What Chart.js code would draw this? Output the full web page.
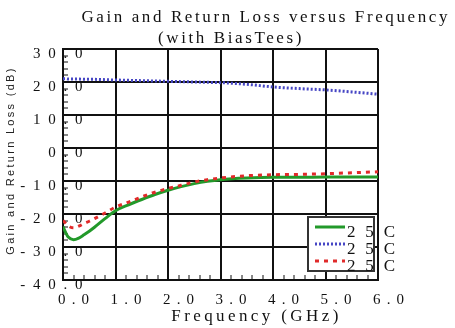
<!DOCTYPE html>
<html>
<head>
<meta charset="utf-8">
<script src="https://cdn.jsdelivr.net/npm/chart.js@4.4.1/dist/chart.umd.min.js"></script>
<style>
  html, body { margin: 0; padding: 0; background: #fff; }
  #wrap { width: 455px; height: 328px; }
</style>
</head>
<body>
<div id="wrap"><canvas id="chart"></canvas></div>
<script>
// values
const freqGHz = [0, 0.05, 0.1, 0.2, 0.3, 0.4, 0.5, 0.6, 0.8, 1.0, 1.25, 1.5, 1.75, 2.0, 2.25, 2.5, 2.75, 3.0, 3.5, 4.0, 4.5, 5.0, 5.5, 6.0];
const greenLoss = [-23.8, -25.6, -27.0, -27.8, -27.3, -26.3, -25.2, -24.0, -21.4, -19.0, -17.2, -15.6, -14.1, -12.8, -11.7, -10.8, -10.1, -9.6, -9.1, -8.9, -8.9, -8.8, -8.8, -8.8];
const blueGain = [21.0, 21.0, 20.9, 20.9, 20.9, 20.8, 20.8, 20.8, 20.7, 20.6, 20.5, 20.4, 20.3, 20.2, 20.1, 20.0, 19.9, 19.8, 19.3, 18.5, 18.0, 17.6, 17.0, 16.3];
const redLoss = [-22.0, -22.8, -23.6, -24.2, -23.7, -22.9, -22.2, -21.4, -19.7, -17.9, -16.4, -14.8, -13.4, -12.3, -11.3, -10.3, -9.6, -9.1, -8.4, -8.1, -8.0, -7.8, -7.5, -7.2];
const seriesLabels = ["2 5 C", "2 5 C", "2 5 C"];

const xMajorTicks = [0, 1, 2, 3, 4, 5, 6];
const xTickLabels = ["0 . 0", "1 . 0", "2 . 0", "3 . 0", "4 . 0", "5 . 0", "6 . 0"];
const yMajorTicks = [30, 20, 10, 0, -10, -20, -30, -40];
const yTickLabels = ["3 0 . 0", "2 0 . 0", "1 0 . 0", "0 . 0", "- 1 0 . 0", "- 2 0 . 0", "- 3 0 . 0", "- 4 0 . 0"];

const points = (arr) => freqGHz.map((f, i) => ({ x: f, y: arr[i] }));

Chart.defaults.font.family = "'Liberation Serif', 'Times New Roman', serif";
Chart.defaults.color = "#111";

// wrap a draw method so its text gets letter spacing (and an optional shift)
function tweak(obj, method, spacing, dx = 0, dy = 0) {
    if (!obj || obj[method].tweaked) return;
    const orig = obj[method];
    const wrapped = function (...args) {
        const ctx = this.ctx;
        ctx.save();
        ctx.letterSpacing = spacing;
        ctx.translate(dx, dy);
        orig.apply(this, args);
        ctx.restore();
    };
    wrapped.tweaked = true;
    obj[method] = wrapped;
}

const textTweaks = {
    id: "textTweaks",
    beforeDraw(chart) {
        const { x, y } = chart.scales;
        // y labels run across the axis line, so don't clip them to the scale box
        y._computeLabelArea = () => undefined;
        tweak(x, "drawLabels", "1.2px");
        tweak(y, "drawLabels", "2px");
        tweak(x, "drawTitle", "3.4px", 36, 0);
        tweak(y, "drawTitle", "2.3px", 0, -4);
        chart.boxes.forEach(b => {
            if (!b.axis && b.options && typeof b.options.text === "string") tweak(b, "draw", "2.6px");
        });
    }
};

// boxed legend in the lower right corner of the plot
const legendBox = {
    id: "legendBox",
    afterDatasetsDraw(chart) {
        const { ctx, chartArea } = chart;
        const w = 66, h = 54;
        const x = chartArea.right - 4 - w;
        const y = chartArea.bottom - 9 - h;
        ctx.save();
        ctx.fillStyle = "#fff";
        ctx.fillRect(x, y, w, h);
        ctx.strokeStyle = "#333";
        ctx.lineWidth = 2;
        ctx.strokeRect(x, y, w, h);
        ctx.font = "17px 'Liberation Serif'";
        ctx.textBaseline = "middle";
        ctx.letterSpacing = "2.8px";
        chart.data.datasets.forEach((ds, i) => {
            const ty = y + 16 + i * 17;
            ctx.strokeStyle = ds.borderColor;
            ctx.lineWidth = ds.borderWidth;
            ctx.setLineDash(ds.borderDash || []);
            ctx.beginPath();
            ctx.moveTo(x + 7, ty - 6);
            ctx.lineTo(x + 37, ty - 6);
            ctx.stroke();
            ctx.setLineDash([]);
            ctx.fillStyle = "#111";
            ctx.fillText(ds.label, x + 39, ty);
        });
        ctx.restore();
    }
};

const isMajorX = (v) => xMajorTicks.includes(v);
const isMajorY = (v) => yMajorTicks.includes(v);

new Chart(document.getElementById("chart"), {
    type: "line",
    data: {
        datasets: [
            {
                label: seriesLabels[0],
                data: points(greenLoss),
                borderColor: "#22992a",
                borderWidth: 3,
                order: 1
            },
            {
                label: seriesLabels[1],
                data: points(blueGain),
                borderColor: "#4646c4",
                borderWidth: 3,
                borderDash: [2, 2],
                order: 1
            },
            {
                label: seriesLabels[2],
                data: points(redLoss),
                borderColor: "#e02a2a",
                borderWidth: 3,
                borderDash: [4, 5],
                order: 0
            }
        ]
    },
    options: {
        responsive: true,
        maintainAspectRatio: false,
        animation: false,
        layout: { padding: { left: 12, right: 5, top: 0, bottom: 0 } },
        elements: {
            point: { radius: 0 },
            line: { cubicInterpolationMode: "monotone" }
        },
        plugins: {
            legend: { display: false },
            tooltip: { enabled: false },
            title: {
                display: true,
                text: "Gain and Return Loss versus Frequency",
                align: "end",
                color: "#111",
                font: { size: 17, weight: "normal", lineHeight: 1.2 },
                padding: { top: 7, bottom: 0 }
            },
            subtitle: {
                display: true,
                text: "(with BiasTees)",
                align: "center",
                color: "#111",
                font: { size: 17, weight: "normal", lineHeight: 1.0 },
                padding: { top: 2.7, bottom: 1.9 }
            }
        },
        scales: {
            x: {
                type: "linear",
                min: 0,
                max: 6,
                afterFit: (s) => { s.height = 48; },
                ticks: {
                    stepSize: 0.2,
                    autoSkip: false,
                    maxRotation: 0,
                    align: "start",
                    labelOffset: -5,
                    padding: 16,
                    font: { size: 15 },
                    callback: (v) => isMajorX(v) ? xTickLabels[xMajorTicks.indexOf(v)] : ""
                },
                grid: {
                    color: (c) => c.tick && isMajorX(c.tick.value) ? "#111" : "rgba(0,0,0,0)",
                    lineWidth: 2,
                    tickColor: "#111",
                    tickLength: -5,
                    tickWidth: 1
                },
                border: { color: "#111", width: 2 },
                title: {
                    display: true,
                    text: "Frequency (GHz)",
                    font: { size: 17, lineHeight: 1.2 },
                    padding: { top: 0, bottom: 1 }
                }
            },
            y: {
                min: -40,
                max: 30,
                afterFit: (s) => { s.width = 51; },
                ticks: {
                    stepSize: 2,
                    autoSkip: false,
                    padding: -16.5,
                    labelOffset: 5,
                    font: { size: 15 },
                    callback: (v) => isMajorY(v) ? yTickLabels[yMajorTicks.indexOf(v)] : ""
                },
                grid: {
                    color: (c) => c.tick && isMajorY(c.tick.value) ? "#111" : "rgba(0,0,0,0)",
                    lineWidth: 2,
                    tickColor: "#111",
                    tickLength: -5,
                    tickWidth: 1
                },
                border: { color: "#111", width: 2 },
                title: {
                    display: true,
                    text: "Gain and Return Loss (dB)",
                    color: "#222",
                    font: { family: "'Liberation Sans', Arial, sans-serif", size: 11, lineHeight: 1.2 },
                    padding: { top: -7.6, bottom: 0 }
                }
            },
            // empty axis that keeps the room on the right of the plot
            y2: {
                position: "right",
                display: true,
                afterFit: (s) => { s.width = 72; },
                grid: { display: false },
                border: { display: false },
                ticks: { display: false }
            }
        }
    },
    plugins: [textTweaks, legendBox]
});
</script>
</body>
</html>
